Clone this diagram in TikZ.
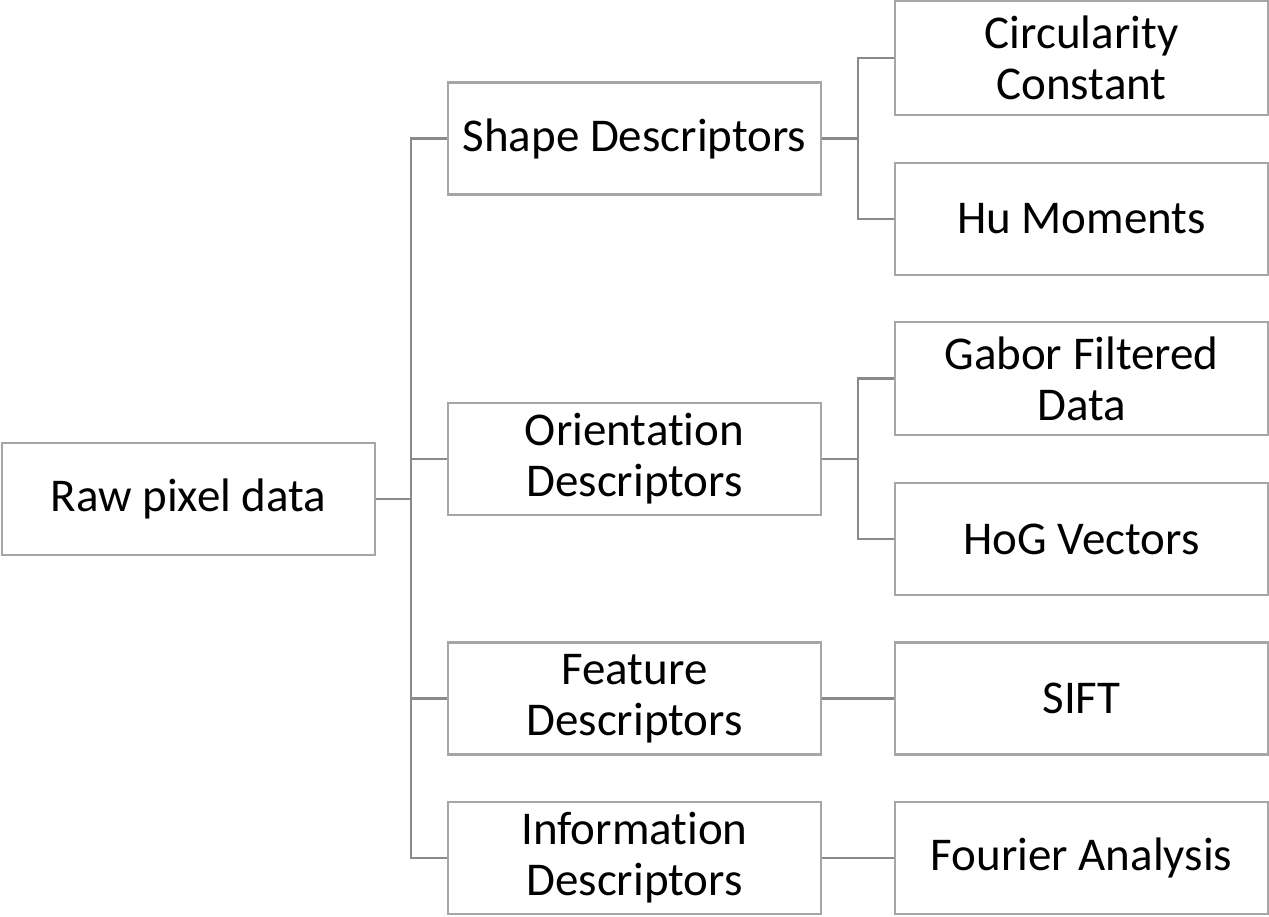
\documentclass[tikz,border=0pt]{standalone}
\usepackage{fontspec}
\setmainfont{Carlito}[Ligatures=NoCommon]
\definecolor{boxc}{RGB}{166,166,166}
\definecolor{connc}{RGB}{138,138,138}
\begin{document}
\begin{tikzpicture}[x=1pt,y=-1pt,
  bx/.style={draw=boxc,line width=2.5pt,rectangle,minimum width=373pt,minimum height=112pt,inner sep=0pt,align=center,font=\fontsize{47}{51}\selectfont,fill=white},
  conn/.style={draw=connc,line width=2.5pt}]
\useasboundingbox[fill=white] (0,0) rectangle (1269,916);
\node[bx] (raw) at (188.5,499) {Raw pixel data};
\node[bx] (shape) at (634.5,138.5) {Shape Descriptors};
\node[bx] (orient) at (634.5,459) {Orientation\\Descriptors};
\node[bx] (feat) at (634.5,698.5) {Feature\\Descriptors};
\node[bx] (info) at (634.5,858) {Information\\Descriptors};
\node[bx,minimum height=114pt] (circ) at (1081.5,58) {Circularity\\Constant};
\node[bx] (hu) at (1081.5,219) {Hu Moments};
\node[bx,minimum height=113pt] (gabor) at (1081.5,378.5) {Gabor Filtered\\Data};
\node[bx] (hog) at (1081.5,539) {HoG Vectors};
\node[bx] (sift) at (1081.5,698.5) {SIFT};
\node[bx] (four) at (1081.5,858) {Fourier Analysis};
\coordinate (trunk) at (411,499);
\coordinate (b1) at (858,138.5);
\coordinate (b2) at (858,459);
\draw[conn] (raw.east) -- (trunk);
\draw[conn] (shape.west) -| (trunk) |- (info.west);
\draw[conn] (trunk |- orient.west) -- (orient.west);
\draw[conn] (trunk |- feat.west) -- (feat.west);
\draw[conn] (shape.east) -- (b1);
\draw[conn] (circ.west) -| (b1) |- (hu.west);
\draw[conn] (orient.east) -- (b2);
\draw[conn] (gabor.west) -| (b2) |- (hog.west);
\draw[conn] (feat.east) -- (sift.west);
\draw[conn] (info.east) -- (four.west);
\end{tikzpicture}
\end{document}
